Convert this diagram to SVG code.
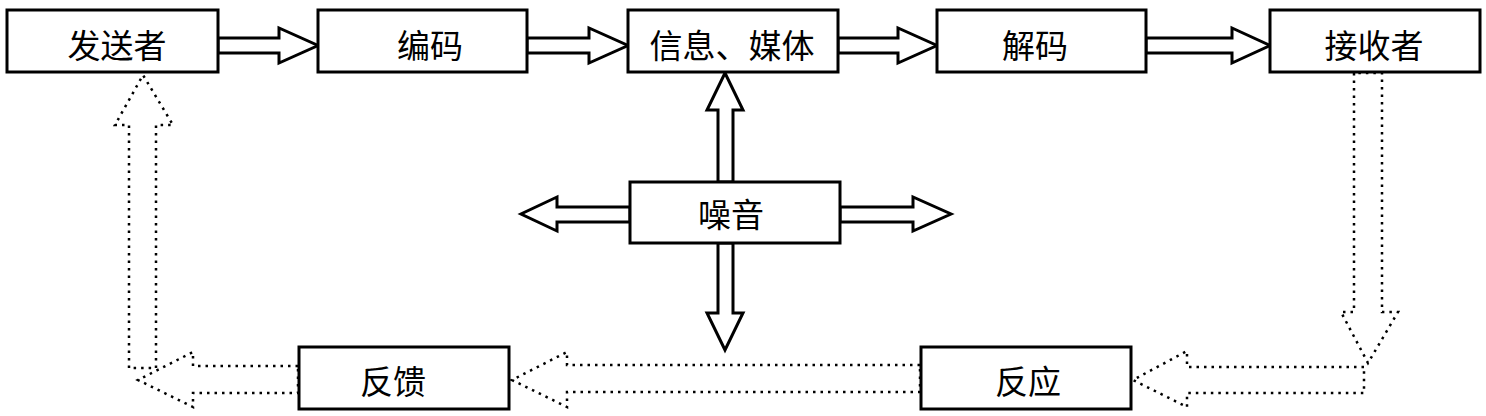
<svg xmlns="http://www.w3.org/2000/svg" width="1486" height="416" viewBox="0 0 1486 416">
<style>
.box{fill:#fff;stroke:#000;stroke-width:3}
.arr{fill:#fff;stroke:#000;stroke-width:3;stroke-linejoin:miter}
.dot{fill:none;stroke:#000;stroke-width:2.5;stroke-dasharray:2.5 5}
text{font-family:"Noto Sans CJK SC","Noto Sans CJK TC",sans-serif;font-size:33px;fill:#000;text-anchor:middle;dominant-baseline:central}
</style>
<rect width="1486" height="416" fill="#fff"/>
<g id="connectors">
<polygon class="arr" points="218,38 279,38 279,28 318,45.5 279,63 279,53 218,53"/>
<polygon class="arr" points="527,38 589,38 589,28 628,45.5 589,63 589,53 527,53"/>
<polygon class="arr" points="838,38 898,38 898,28 937,45.5 898,63 898,53 838,53"/>
<polygon class="arr" points="1146,38 1232,38 1232,28 1270,45.5 1232,63 1232,53 1146,53"/>
<polygon class="arr" points="718,182 718,110 707,110 725,73 743,110 733,110 733,182"/>
<polygon class="arr" points="718,243 718,313 707,313 725,350 743,313 733,313 733,243"/>
<polygon class="arr" points="840,207 913,207 913,197 951,214 913,231 913,222 840,222"/>
<polygon class="arr" points="630,207 557,207 557,197 521,214 557,231 557,222 630,222"/>
<polygon class="dot" points="1354,73 1354,312 1341,312 1368,363 1398,312 1382,312 1382,73"/>
<polygon class="dot" points="1364,367 1187,367 1187,351 1133,380 1187,407 1187,393 1364,393"/>
<polygon class="dot" points="920,365 567,365 567,352 512,380 567,407 567,392 920,392"/>
<polygon class="dot" points="298,366 193,366 193,352 138,380 193,407 193,393 298,393"/>
<polygon class="dot" points="129,368 129,125 115,125 143,75 173,125 156,125 156,368"/>
</g>
<g id="sender"><rect class="box" x="7" y="10" width="211" height="62"/><text x="117" y="44">发送者</text></g>
<g id="encode"><rect class="box" x="318" y="10" width="209" height="62"/><text x="430" y="44">编码</text></g>
<g id="media"><rect class="box" x="628" y="10" width="210" height="62"/><text x="732" y="44">信息、媒体</text></g>
<g id="decode"><rect class="box" x="937" y="10" width="209" height="62"/><text x="1035" y="44">解码</text></g>
<g id="receiver"><rect class="box" x="1270" y="10" width="210" height="62"/><text x="1374" y="44">接收者</text></g>
<g id="noise"><rect class="box" x="630" y="182" width="210" height="61"/><text x="731" y="213">噪音</text></g>
<g id="feedback"><rect class="box" x="299" y="347" width="210" height="62"/><text x="393" y="380">反馈</text></g>
<g id="response"><rect class="box" x="921" y="347" width="210" height="62"/><text x="1028" y="380">反应</text></g>
</svg>
